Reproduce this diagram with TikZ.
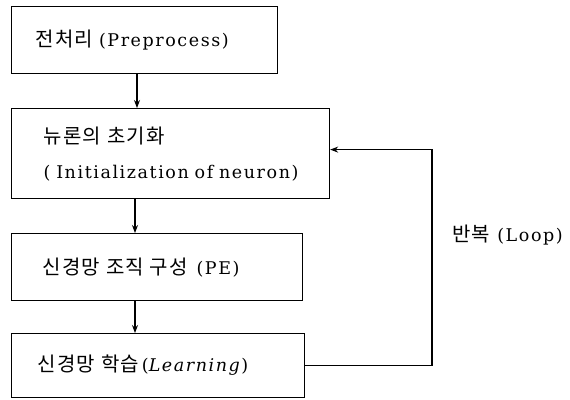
\documentclass[tikz,border=0pt]{standalone}
\usepackage{fontspec}
\setmainfont{DejaVu Serif}[LetterSpace=9]
\newfontfamily\kr{Noto Sans CJK KR}[LetterSpace=6,WordSpace=2.5]
\newcommand{\krt}[1]{{\kr\fontsize{20}{22}\selectfont #1}}
\usetikzlibrary{arrows.meta}
\begin{document}
\begin{tikzpicture}[x=1pt,y=-1pt,
  box/.style={draw,line width=1.2pt,anchor=north west,align=left,
    inner ysep=0pt,font=\fontsize{17.5}{35}\selectfont},
  arr/.style={line width=1.1pt,-{Stealth[length=8pt,width=6pt]}},
  ln/.style={line width=1.1pt}]
\useasboundingbox (0,0) rectangle (570,399);
\node[box,minimum height=67pt,inner xsep=24pt,text width=218pt] (b1) at (11,6)
  {\krt{전처리} (Preprocess)};
\node[box,minimum height=90pt,inner xsep=32pt,text width=254pt] (b2) at (11,108)
  {\krt{뉴론의 초기화}\\( Initialization of neuron)};
\node[box,minimum height=67pt,inner xsep=31pt,text width=229pt] (b3) at (11,233)
  {\krt{신경망 조직 구성}\enspace(PE)};
\node[box,minimum height=64pt,inner xsep=26pt,text width=241pt] (b4) at (11,333)
  {\krt{신경망 학습}\,(\textit{Learning})};
\coordinate (c1) at (137,0);
\coordinate (c2) at (135,0);
\coordinate (lp) at (432,0);
\coordinate (b2e) at ([yshift=4pt]b2.east);
\draw[arr] (b1.south -| c1) -- (b2.north -| c1);
\draw[arr] (b2.south -| c2) -- (b3.north -| c2);
\draw[arr] (b3.south -| c2) -- (b4.north -| c2);
\draw[arr] (b4.east) -- (b4.east -| lp) -- (lp |- b2e) -- (b2e);
\node[anchor=west,inner sep=0pt,font=\fontsize{17.5}{20}\selectfont] (lbl) at (452,235)
  {\krt{반복} (Loop)};
\end{tikzpicture}
\end{document}
